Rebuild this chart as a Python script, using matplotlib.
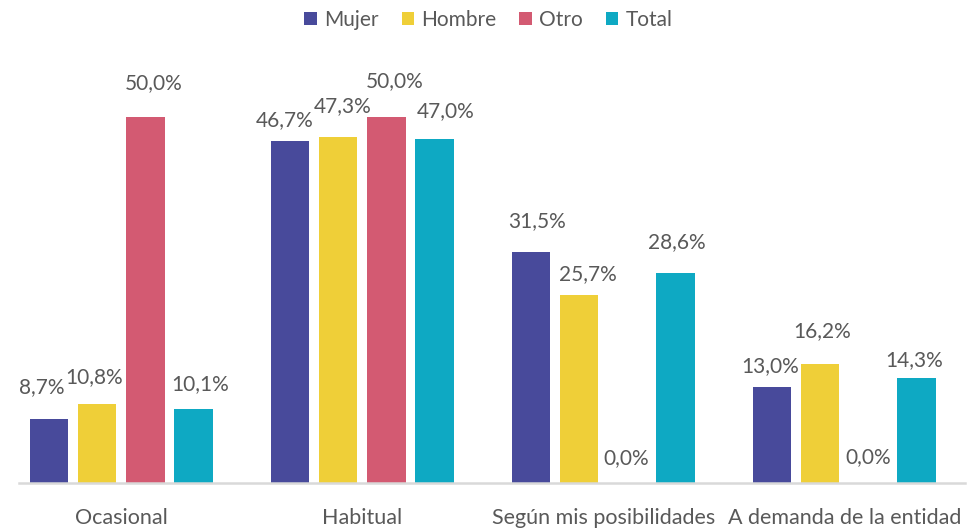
import matplotlib
matplotlib.use("Agg")
import matplotlib.pyplot as plt
import numpy as np
from matplotlib.patches import Patch

categories = ["Ocasional", "Habitual", "Según mis posibilidades", "A demanda de la entidad"]
series_names = ["Mujer", "Hombre", "Otro", "Total"]
mujer = [8.7, 46.7, 31.5, 13.0]
hombre = [10.8, 47.3, 25.7, 16.2]
otro = [50.0, 50.0, 0.0, 0.0]
total = [10.1, 47.0, 28.6, 14.3]

colors = ["#484A9B", "#EFCF38", "#D35A72", "#0EA9C3"]
text_color = "#595959"

# label nudges (pixels): horizontal shift and gap between bar top and text baseline
label_nudges = {
    "Mujer":  [(-7, 26), (-5, 15), (6, 25), (-2, 15)],
    "Hombre": [(-3, 20), (5, 25), (9, 15), (2, 27)],
    "Otro":   [(8, 28), (8, 30), (-1, 18), (0, 19)],
    "Total":  [(7, 19), (11, 22), (1, 25), (-2, 12)],
}

plt.rcParams["font.family"] = ["Lato", "DejaVu Sans"]

W, H = 977, 531
fig = plt.figure(figsize=(W / 100, H / 100), dpi=100)
ax_left, ax_right, ax_bottom_px, ax_top_px = 19, 965, 482.5, 44
ax = fig.add_axes([ax_left / W, (H - ax_bottom_px) / H,
                   (ax_right - ax_left) / W, (ax_bottom_px - ax_top_px) / H])

x = np.arange(len(categories))
width = 0.16
offsets = [-0.3, -0.1, 0.1, 0.3]
all_series = [mujer, hombre, otro, total]

for name, vals, col, off in zip(series_names, all_series, colors, offsets):
    bars = ax.bar(x + off, vals, width, color=col, label=name, zorder=2)
    for b, v, (dx, dy) in zip(bars, vals, label_nudges[name]):
        ax.annotate(f"{v:.1f}".replace(".", ",") + "%",
                    xy=(b.get_x() + b.get_width() / 2, b.get_height()),
                    xytext=(dx, dy), textcoords="offset pixels",
                    ha="center", va="baseline", fontsize=15, color=text_color)

ax.set_xlim(-0.424, 3.501)
ax.set_ylim(0, 60)

for s in ["top", "right", "left"]:
    ax.spines[s].set_visible(False)
ax.spines["bottom"].set_color("#D9D9D9")
ax.spines["bottom"].set_linewidth(1.8)
ax.spines["bottom"].set_zorder(3)
ax.set_yticks([])
ax.set_xticks(x)
ax.set_xticklabels(categories, fontsize=15.5, color=text_color)
ax.tick_params(axis="x", length=0, pad=18.5)

handles = [Patch(facecolor=c, label=n) for c, n in zip(colors, series_names)]
fig.legend(handles=handles, loc="center", bbox_to_anchor=(0.5, 1 - 20 / H), ncol=4,
           frameon=False, fontsize=15, handlelength=0.6, handleheight=0.6,
           handletextpad=0.35, columnspacing=1.1, labelcolor=text_color)

fig.savefig("out.png", dpi=100)
